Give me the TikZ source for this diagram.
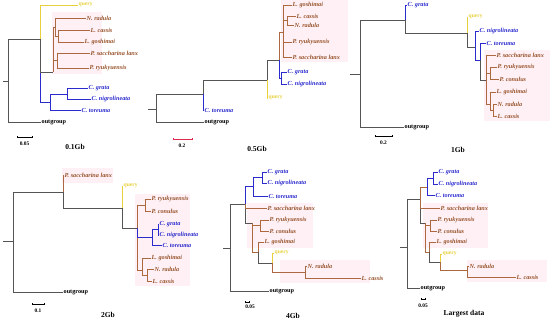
\documentclass[tikz,border=0pt]{standalone}
\usepackage{fontspec}
\setmainfont{Liberation Serif}
\usetikzlibrary{arrows.meta}
\definecolor{brn}{RGB}{172,104,62}
\definecolor{brntx}{RGB}{150,82,42}
\definecolor{blu}{RGB}{42,42,205}
\definecolor{yel}{RGB}{232,208,60}
\definecolor{gry}{RGB}{85,85,85}
\definecolor{pnk}{RGB}{254,240,245}
\definecolor{sbred}{RGB}{222,40,80}
\begin{document}
\begin{tikzpicture}[x=1pt,y=-1pt,
  gr/.style={draw=gry,line width=0.8pt},
  bn/.style={draw=brn,line width=0.6pt},
  bu/.style={draw=blu,line width=0.6pt},
  yl/.style={draw=yel,line width=0.6pt},
  lf/.style={anchor=west,inner sep=0.5pt,font=\fontsize{6.2}{7}\selectfont\bfseries\itshape},
  bnl/.style={lf,text=brntx},
  bul/.style={lf,text=blu},
  yll/.style={lf,text=yel,font=\fontsize{5.6}{7}\selectfont\bfseries},
  ogl/.style={lf,font=\fontsize{6.2}{7}\selectfont\bfseries},
  ttl/.style={font=\fontsize{7.5}{9}\selectfont\bfseries},
  sbl/.style={font=\fontsize{5.4}{6}\selectfont\bfseries},
  sbar/.style={line width=0.5pt,{Bar[width=2.2pt]}-{Bar[width=2.2pt]}},
  hl/.style={fill=pnk,draw=none}]
\useasboundingbox (0,0) rectangle (550,321);

% 0.1Gb
\fill[hl] (52,12) rectangle (102,74);
\coordinate (s1) at (3,81);
\coordinate (r1) at (8,81);
\coordinate (a1) at (40,39);
\coordinate (b1) at (53,72);
\coordinate (l1) at (55,27);
\coordinate (l1b) at (58,36);
\coordinate (p1) at (57,60);
\coordinate (c1) at (50,102);
\coordinate (c1b) at (67,94);
\node[ogl] (out1) at (41,122) {outgroup};
\node[yll] (q1) at (78,5) {query};
\node[bnl] (nrad1) at (86,18) {N. radula};
\node[bnl] (lcas1) at (90,30) {L. cassis};
\node[bnl] (lgos1) at (84,42) {L. goshimai};
\node[bnl] (psac1) at (90,53) {P. saccharina lanx};
\node[bnl] (pryu1) at (89,68) {P. ryukyuensis};
\node[bul] (grata1) at (88,88) {C. grata};
\node[bul] (nig1) at (91,99) {C. nigrolineata};
\node[bul] (tor1) at (81,110) {C. toreuma};
\draw[gr] (s1) -- (r1) (r1) |- (out1.west) (r1) |- (a1);
\draw[bu] (a1) |- (c1) (c1) |- (c1b) (c1b) |- (grata1.west) (c1b) |- (nig1.west) (c1) |- (tor1.west);
\draw[gr] (a1) |- (b1);
\draw[yl] (a1) |- (q1.west);
\draw[bn] (b1) |- (l1) (l1) |- (nrad1.west) (l1) |- (l1b) (l1b) |- (lcas1.west) (l1b) |- (lgos1.west)
  (b1) |- (p1) (p1) |- (psac1.west) (p1) |- (pryu1.west);
\coordinate (sb1a) at (17,137);
\coordinate (sb1b) at (32,137);
\draw[sbar] (sb1a) -- (sb1b);
\node[sbl] (sbt1) at (24.5,144) {0.05};
\node[ttl] (ttl1) at (75,147) {0.1Gb};

% 0.5Gb
\fill[hl] (281,0) rectangle (348,62);
\coordinate (s2) at (148,109);
\coordinate (r2) at (156,109);
\coordinate (d2) at (203,94);
\coordinate (e2) at (267,80);
\coordinate (f2) at (279,60);
\coordinate (g2) at (283,32);
\coordinate (g2b) at (287,20);
\coordinate (h2) at (281,78);
\node[ogl] (out2) at (204,122) {outgroup};
\node[bul] (tor2) at (204,110) {C. toreuma};
\node[yll] (q2) at (268,98) {query};
\node[bnl] (lgos2) at (292,5) {L. goshimai};
\node[bnl] (lcas2) at (296,16) {L. cassis};
\node[bnl] (nrad2) at (294,25) {N. radula};
\node[bnl] (pryu2) at (292,42) {P. ryukyuensis};
\node[bnl] (psac2) at (292,57) {P. saccharina lanx};
\node[bul] (grata2) at (287,72) {C. grata};
\node[bul] (nig2) at (287,84) {C. nigrolineata};
\draw[gr] (s2) -- (r2) (r2) |- (out2.west) (r2) |- (d2);
\draw[bu] (d2) |- (tor2.west);
\draw[gr] (d2) |- (e2) (e2) |- (f2);
\draw[yl] (e2) |- (q2.west);
\draw[bu] (f2) |- (h2) (h2) |- (grata2.west) (h2) |- (nig2.west);
\draw[bn] (f2) |- (g2) (g2) |- (lgos2.west) (g2) |- (g2b) (g2b) |- (lcas2.west) (g2b) |- (nrad2.west)
  (g2) |- (pryu2.west) (g2) |- (psac2.west);
\coordinate (sb2a) at (173,139);
\coordinate (sb2b) at (192,139);
\draw[sbar,sbred] (sb2a) -- (sb2b);
\node[sbl] (sbt2) at (182,145.5) {0.2};
\node[ttl] (ttl2) at (257,149) {0.5Gb};

% 1Gb
\fill[hl] (484,50) rectangle (550,121);
\coordinate (s3) at (350,74);
\coordinate (r3) at (360,74);
\coordinate (i3) at (405,20);
\coordinate (j3) at (467,33);
\coordinate (k3) at (475,47);
\coordinate (m3) at (480,60);
\coordinate (n3) at (486,80);
\coordinate (pn3) at (490,73);
\coordinate (ln3) at (490,104);
\coordinate (ln3b) at (493,110);
\node[ogl] (out3) at (404,127) {outgroup};
\node[bul] (grata3) at (407,5) {C. grata};
\node[yll] (q3) at (468,17) {query};
\node[bul] (nig3) at (479,31) {C. nigrolineata};
\node[bul] (tor3) at (486,43) {C. toreuma};
\node[bnl] (psac3) at (496,55) {P. saccharina lanx};
\node[bnl] (pryu3) at (497,67) {P. ryukyuensis};
\node[bnl] (pcon3) at (499,79) {P. conulus};
\node[bnl] (lgos3) at (496,92) {L. goshimai};
\node[bnl] (nrad3) at (497,104) {N. radula};
\node[bnl] (lcas3) at (497,116) {L. cassis};
\draw[gr] (s3) -- (r3) (r3) |- (out3.west) (r3) |- (i3);
\draw[bu] (i3) |- (grata3.west);
\draw[gr] (i3) |- (j3) (j3) |- (k3);
\draw[yl] (j3) |- (q3.west);
\draw[bu] (k3) |- (nig3.west) (k3) |- (m3) (m3) |- (tor3.west);
\draw[gr] (m3) |- (n3);
\draw[bn] (n3) |- (psac3.west) (n3) |- (pn3) (pn3) |- (pryu3.west) (pn3) |- (pcon3.west)
  (n3) |- (ln3) (ln3) |- (lgos3.west) (ln3) |- (ln3b) (ln3b) |- (nrad3.west) (ln3b) |- (lcas3.west);
\coordinate (sb3a) at (375,136);
\coordinate (sb3b) at (392,136);
\draw[sbar] (sb3a) -- (sb3b);
\node[sbl] (sbt3) at (383.5,143) {0.2};
\node[ttl] (ttl3) at (458,150) {1Gb};

% 2Gb
\fill[hl] (62,168) rectangle (113,183);
\fill[hl] (135,194) rectangle (190,286);
\coordinate (s4) at (3,241);
\coordinate (r4) at (13,241);
\coordinate (o4) at (63,192);
\coordinate (q4) at (122,208);
\coordinate (t4) at (137,228);
\coordinate (pn4) at (145,205);
\coordinate (cn4) at (152,237);
\coordinate (cn4b) at (158,229);
\coordinate (ln4) at (142,270);
\coordinate (ln4b) at (147,275);
\node[ogl] (out4) at (63,292) {outgroup};
\node[bnl] (psac4) at (64,175) {P. saccharina lanx};
\node[yll] (qry4) at (123,186) {query};
\node[bnl] (pryu4) at (151,199) {P. ryukyuensis};
\node[bnl] (pcon4) at (151,211) {P. conulus};
\node[bul] (grata4) at (159,224) {C. grata};
\node[bul] (nig4) at (159,235) {C. nigrolineata};
\node[bul] (tor4) at (162,245) {C. toreuma};
\node[bnl] (lgos4) at (151,258) {L. goshimai};
\node[bnl] (nrad4) at (154,269) {N. radula};
\node[bnl] (lcas4) at (152,281) {L. cassis};
\draw[gr] (s4) -- (r4) (r4) |- (out4.west) (r4) |- (o4);
\draw[bn] (o4) |- (psac4.west);
\draw[gr] (o4) |- (q4) (q4) |- (t4);
\draw[yl] (q4) |- (qry4.west);
\draw[bn] (t4) |- (ln4) (ln4) |- (lgos4.west) (ln4) |- (ln4b) (ln4b) |- (nrad4.west) (ln4b) |- (lcas4.west)
  (t4) |- (pn4) (pn4) |- (pryu4.west) (pn4) |- (pcon4.west);
\draw[bu] (t4) |- (cn4) (cn4) |- (cn4b) (cn4b) |- (grata4.west) (cn4b) |- (nig4.west) (cn4) |- (tor4.west);
\coordinate (sb4a) at (32,304);
\coordinate (sb4b) at (44,304);
\draw[sbar] (sb4a) -- (sb4b);
\node[sbl] (sbt4) at (38,310.5) {0.1};
\node[ttl] (ttl4) at (108,315) {2Gb};

% 4Gb
\fill[hl] (247,203) rectangle (313,248);
\fill[hl] (280,260) rectangle (370,283);
\coordinate (s5) at (223,248);
\coordinate (r5) at (230,248);
\coordinate (t5) at (245,204);
\coordinate (u5) at (253,186);
\coordinate (u5b) at (262,177);
\coordinate (z5) at (252,223);
\coordinate (pn5) at (260,225);
\coordinate (y5) at (258,252);
\coordinate (w5) at (272,263);
\coordinate (x5) at (305,272);
\node[ogl] (out5) at (269,291) {outgroup};
\node[bul] (grata5) at (267,172) {C. grata};
\node[bul] (nig5) at (267,183) {C. nigrolineata};
\node[bul] (tor5) at (268,196) {C. toreuma};
\node[bnl] (psac5) at (267,208) {P. saccharina lanx};
\node[bnl] (pryu5) at (269,220) {P. ryukyuensis};
\node[bnl] (pcon5) at (269,231) {P. conulus};
\node[bnl] (lgos5) at (264,242) {L. goshimai};
\node[yll] (qry5) at (274,253) {query};
\node[bnl] (nrad5) at (307,266) {N. radula};
\node[bnl] (lcas5) at (361,278) {L. cassis};
\draw[gr] (s5) -- (r5) (r5) |- (out5.west) (r5) |- (t5);
\draw[gr] (t5) |- (z5);
\draw[bu] (t5) |- (u5) (u5) |- (u5b) (u5b) |- (grata5.west) (u5b) |- (nig5.west) (u5) |- (tor5.west);
\draw[bn] (t5) |- (psac5.west);
\draw[bn] (z5) |- (pn5) (pn5) |- (pryu5.west) (pn5) |- (pcon5.west) (z5) |- (y5) (y5) |- (lgos5.west);
\draw[gr] (y5) |- (w5);
\draw[yl] (w5) |- (qry5.west);
\draw[bn] (w5) |- (x5) (x5) |- (nrad5.west) (x5) |- (lcas5.west);
\coordinate (sb5a) at (245,302);
\coordinate (sb5b) at (249,302);
\draw[sbar] (sb5a) -- (sb5b);
\node[sbl] (sbt5) at (250,306.5) {0.05};
\node[ttl] (ttl5) at (293,316) {4Gb};

% Largest data
\fill[hl] (423,203) rectangle (488,248);
\fill[hl] (467,260) rectangle (547,282);
\coordinate (s6) at (400,247);
\coordinate (r6) at (407,247);
\coordinate (t6) at (420,199);
\coordinate (u6) at (427,187);
\coordinate (u6b) at (433,178);
\coordinate (z6) at (425,223);
\coordinate (pn6) at (430,225);
\coordinate (y6) at (429,252);
\coordinate (w6) at (440,262);
\coordinate (x6) at (467,270);
\node[ogl] (out6) at (420,288) {outgroup};
\node[bul] (grata6) at (438,172) {C. grata};
\node[bul] (nig6) at (438,184) {C. nigrolineata};
\node[bul] (tor6) at (435,195) {C. toreuma};
\node[bnl] (psac6) at (440,208) {P. saccharina lanx};
\node[bnl] (pryu6) at (437,220) {P. ryukyuensis};
\node[bnl] (pcon6) at (437,231) {P. conulus};
\node[bnl] (lgos6) at (436,242) {L. goshimai};
\node[yll] (qry6) at (442,254) {query};
\node[bnl] (nrad6) at (469,266) {N. radula};
\node[bnl] (lcas6) at (516,277) {L. cassis};
\draw[gr] (s6) -- (r6) (r6) |- (out6.west) (r6) |- (t6);
\draw[gr] (t6) |- (z6);
\draw[bn] (t6) |- (u6) (t6) |- (psac6.west);
\draw[bu] (u6) |- (u6b) (u6b) |- (grata6.west) (u6b) |- (nig6.west) (u6) |- (tor6.west);
\draw[bn] (z6) |- (pn6) (pn6) |- (pryu6.west) (pn6) |- (pcon6.west) (z6) |- (y6) (y6) |- (lgos6.west);
\draw[gr] (y6) |- (w6);
\draw[yl] (w6) |- (qry6.west);
\draw[bn] (w6) |- (x6) (x6) |- (nrad6.west) (x6) |- (lcas6.west);
\coordinate (sb6a) at (421,299);
\coordinate (sb6b) at (425,299);
\draw[sbar] (sb6a) -- (sb6b);
\node[sbl] (sbt6) at (423,305.5) {0.05};
\node[ttl] (ttl6) at (464,314) {Largest data};
\end{tikzpicture}
\end{document}
